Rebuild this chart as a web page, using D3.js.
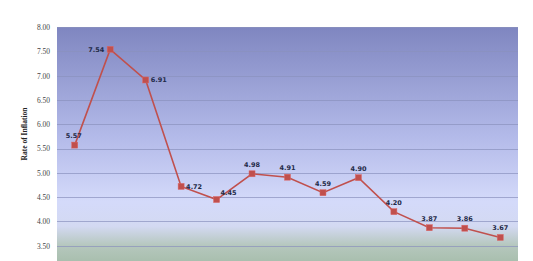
<!DOCTYPE html>
<html><head><meta charset="utf-8">
<script src="https://cdn.jsdelivr.net/npm/d3@7"></script>
<style>html,body{margin:0;padding:0;background:#fff;overflow:hidden}</style>
</head><body>
<svg id="c" width="533" height="261"></svg>
<script>
const categories = ["P1","P2","P3","P4","P5","P6","P7","P8","P9","P10","P11","P12","P13"];
const values = [5.57,7.54,6.91,4.72,4.45,4.98,4.91,4.59,4.90,4.20,3.87,3.86,3.67];
const yTicks = [3.50,4.00,4.50,5.00,5.50,6.00,6.50,7.00,7.50,8.00];
const yTitle = "Rate of Inflation";

(function(){
const svg = d3.select("#c");
const pL = 57, pR = 518, pT = 27, pB = 270;
const x = d3.scaleBand().domain(categories).range([pL, pR]);
const y = d3.scaleLinear().domain([3.0, 8.0]).range([pB, pT]);

const defs = svg.append("defs");
const g = defs.append("linearGradient").attr("id","bg").attr("gradientUnits","userSpaceOnUse")
  .attr("x1",0).attr("x2",0).attr("y1",pT).attr("y2",pB);
[[0,"#7f86c0"],[0.45,"#b3bae9"],[0.72,"#d4dafa"],[0.82,"#d3d9f2"],[0.9,"#b5c7bd"],[1,"#a2baa6"]]
  .forEach(([o,c])=>g.append("stop").attr("offset",o).attr("stop-color",c));

svg.append("rect").attr("x",pL).attr("y",pT).attr("width",pR-pL).attr("height",pB-pT).attr("fill","url(#bg)");

svg.append("g").selectAll("line").data(yTicks).join("line")
  .attr("x1",pL).attr("x2",pR).attr("y1",d=>Math.round(y(d))+0.5).attr("y2",d=>Math.round(y(d))+0.5)
  .attr("stroke","#8a91bd").attr("stroke-opacity",0.7).attr("stroke-width",1);

const ax = svg.append("g").attr("transform",`translate(${pL},0)`)
  .call(d3.axisLeft(y).tickValues(yTicks).tickFormat(d3.format(".2f")).tickSize(0).tickPadding(7));
ax.select(".domain").remove();
ax.selectAll("text").attr("font-family","Liberation Serif, serif").attr("font-size","7.5px").attr("fill","#444");

svg.append("text").attr("transform",`translate(27,134) rotate(-90)`)
  .attr("text-anchor","middle").attr("font-family","Liberation Serif, serif").attr("font-weight","bold")
  .attr("font-size","7.5px").attr("fill","#222").text(yTitle);

const cx = d => x(d) + x.bandwidth()/2;
const line = d3.line().x((d,i)=>cx(categories[i])).y(d=>y(d));
svg.append("path").datum(values).attr("d",line).attr("fill","none").attr("stroke","#c0504d").attr("stroke-width",1.6);

svg.append("g").selectAll("rect").data(values).join("rect")
  .attr("x",(d,i)=>cx(categories[i])-3).attr("y",d=>y(d)-3).attr("width",6).attr("height",6)
  .attr("fill","#c0504d").attr("stroke","#d66").attr("stroke-width",0.5);

const place = {0:"aboveLeft",1:"left",2:"right",3:"right",4:"aboveRight"};
svg.append("g").selectAll("text").data(values).join("text")
  .attr("font-family","DejaVu Sans, sans-serif").attr("font-weight","bold").attr("font-size","6.5px").attr("fill","#1f2a48")
  .each(function(d,i){
    const px = cx(categories[i]), py = y(d), p = place[i] || "above";
    const t = d3.select(this).text(d.toFixed(2));
    if (p==="left") t.attr("x",px-6).attr("y",py+2.5).attr("text-anchor","end");
    else if (p==="right") t.attr("x",px+5).attr("y",py+(i===3?3:2.5)).attr("text-anchor","start");
    else if (p==="aboveLeft") t.attr("x",px-1).attr("y",py-7).attr("text-anchor","middle");
    else if (p==="aboveRight") t.attr("x",px+4).attr("y",py-5).attr("text-anchor","start");
    else t.attr("x",px).attr("y",py-7).attr("text-anchor","middle");
  });
})();
</script>
</body></html>
